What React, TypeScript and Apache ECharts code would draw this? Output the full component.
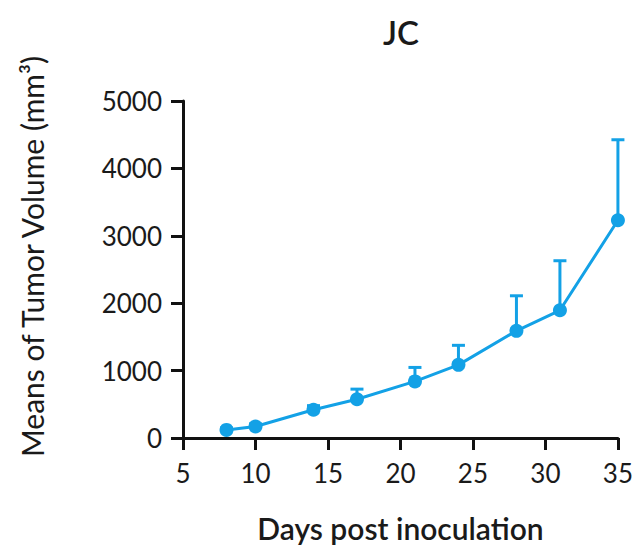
import React, { useEffect, useRef } from "react";
import * as echarts from "echarts";

const days = [8, 10, 14, 17, 21, 24, 28, 31, 35];
const means = [120, 170, 420, 575, 840, 1085, 1590, 1895, 3230];
const errors = [30, 40, 60, 150, 207, 290, 520, 735, 1195];
const xTicks = [5, 10, 15, 20, 25, 30, 35];
const yTicks = [0, 1000, 2000, 3000, 4000, 5000];

const BLUE = "#13a1e6";
const FONT = "Lato";

export default function App() {
  const ref = useRef<HTMLDivElement>(null);
  useEffect(() => {
    if (!ref.current) return;
    const chart = echarts.init(ref.current, undefined, { renderer: "svg" });
    const errData = days.map((d, i) => [d, means[i], means[i] + errors[i]]);
    chart.setOption({
      animation: false,
      backgroundColor: "#ffffff",
      title: {
        text: "JC",
        left: 378,
        top: 10,
        textStyle: { fontFamily: FONT, fontSize: 33, fontWeight: 600, color: "#1a1a1a" },
      },
      grid: { left: 183, right: 17, top: 101, bottom: 108, containLabel: false },
      xAxis: {
        type: "value",
        min: xTicks[0],
        max: xTicks[xTicks.length - 1],
        interval: 5,
        name: "Days post inoculation",
        nameLocation: "middle",
        nameGap: 75,
        nameTextStyle: { fontFamily: FONT, fontSize: 30, fontWeight: 600, color: "#1a1a1a" },
        splitLine: { show: false },
        axisLine: { show: true, onZero: false, lineStyle: { color: "#111", width: 3 } },
        axisTick: { show: true, length: 12, lineStyle: { color: "#111", width: 3 } },
        axisLabel: { fontFamily: FONT, fontSize: 26, color: "#1a1a1a", margin: 22 },
      },
      yAxis: {
        type: "value",
        min: yTicks[0],
        max: yTicks[yTicks.length - 1],
        interval: 1000,
        name: "Means of Tumor Volume (mm³)",
        nameLocation: "middle",
        nameRotate: 90,
        nameGap: 136,
        nameTextStyle: {
          fontFamily: FONT,
          fontSize: 30,
          fontWeight: 400,
          color: "#1a1a1a",
          padding: [0, 0, 0, 26],
        },
        splitLine: { show: false },
        axisLine: { show: true, lineStyle: { color: "#111", width: 3 } },
        axisTick: { show: true, length: 12, lineStyle: { color: "#111", width: 3 } },
        axisLabel: {
          fontFamily: FONT,
          fontSize: 26,
          color: "#1a1a1a",
          margin: 21,
          formatter: (v: number) => String(v),
        },
      },
      series: [
        {
          type: "custom",
          z: 2,
          encode: { x: 0, y: [1, 2] },
          data: errData,
          renderItem: (params: any, api: any) => {
            const x = api.value(0);
            const lo = api.coord([x, api.value(1)]);
            const hi = api.coord([x, api.value(2)]);
            const hw = 6.5;
            return {
              type: "group",
              children: [
                {
                  type: "line",
                  shape: { x1: lo[0], y1: lo[1], x2: hi[0], y2: hi[1] },
                  style: { stroke: BLUE, lineWidth: 3 },
                },
                {
                  type: "line",
                  shape: { x1: hi[0] - hw, y1: hi[1], x2: hi[0] + hw, y2: hi[1] },
                  style: { stroke: BLUE, lineWidth: 3 },
                },
              ],
            };
          },
        },
        {
          type: "line",
          z: 3,
          data: days.map((d, i) => [d, means[i]]),
          symbol: "circle",
          symbolSize: 14,
          itemStyle: { color: BLUE },
          lineStyle: { color: BLUE, width: 3 },
        },
      ],
    });
    return () => chart.dispose();
  }, []);
  return (
    <div
      ref={ref}
      style={{ position: "fixed", left: 0, top: 0, width: 636, height: 548 }}
    />
  );
}
